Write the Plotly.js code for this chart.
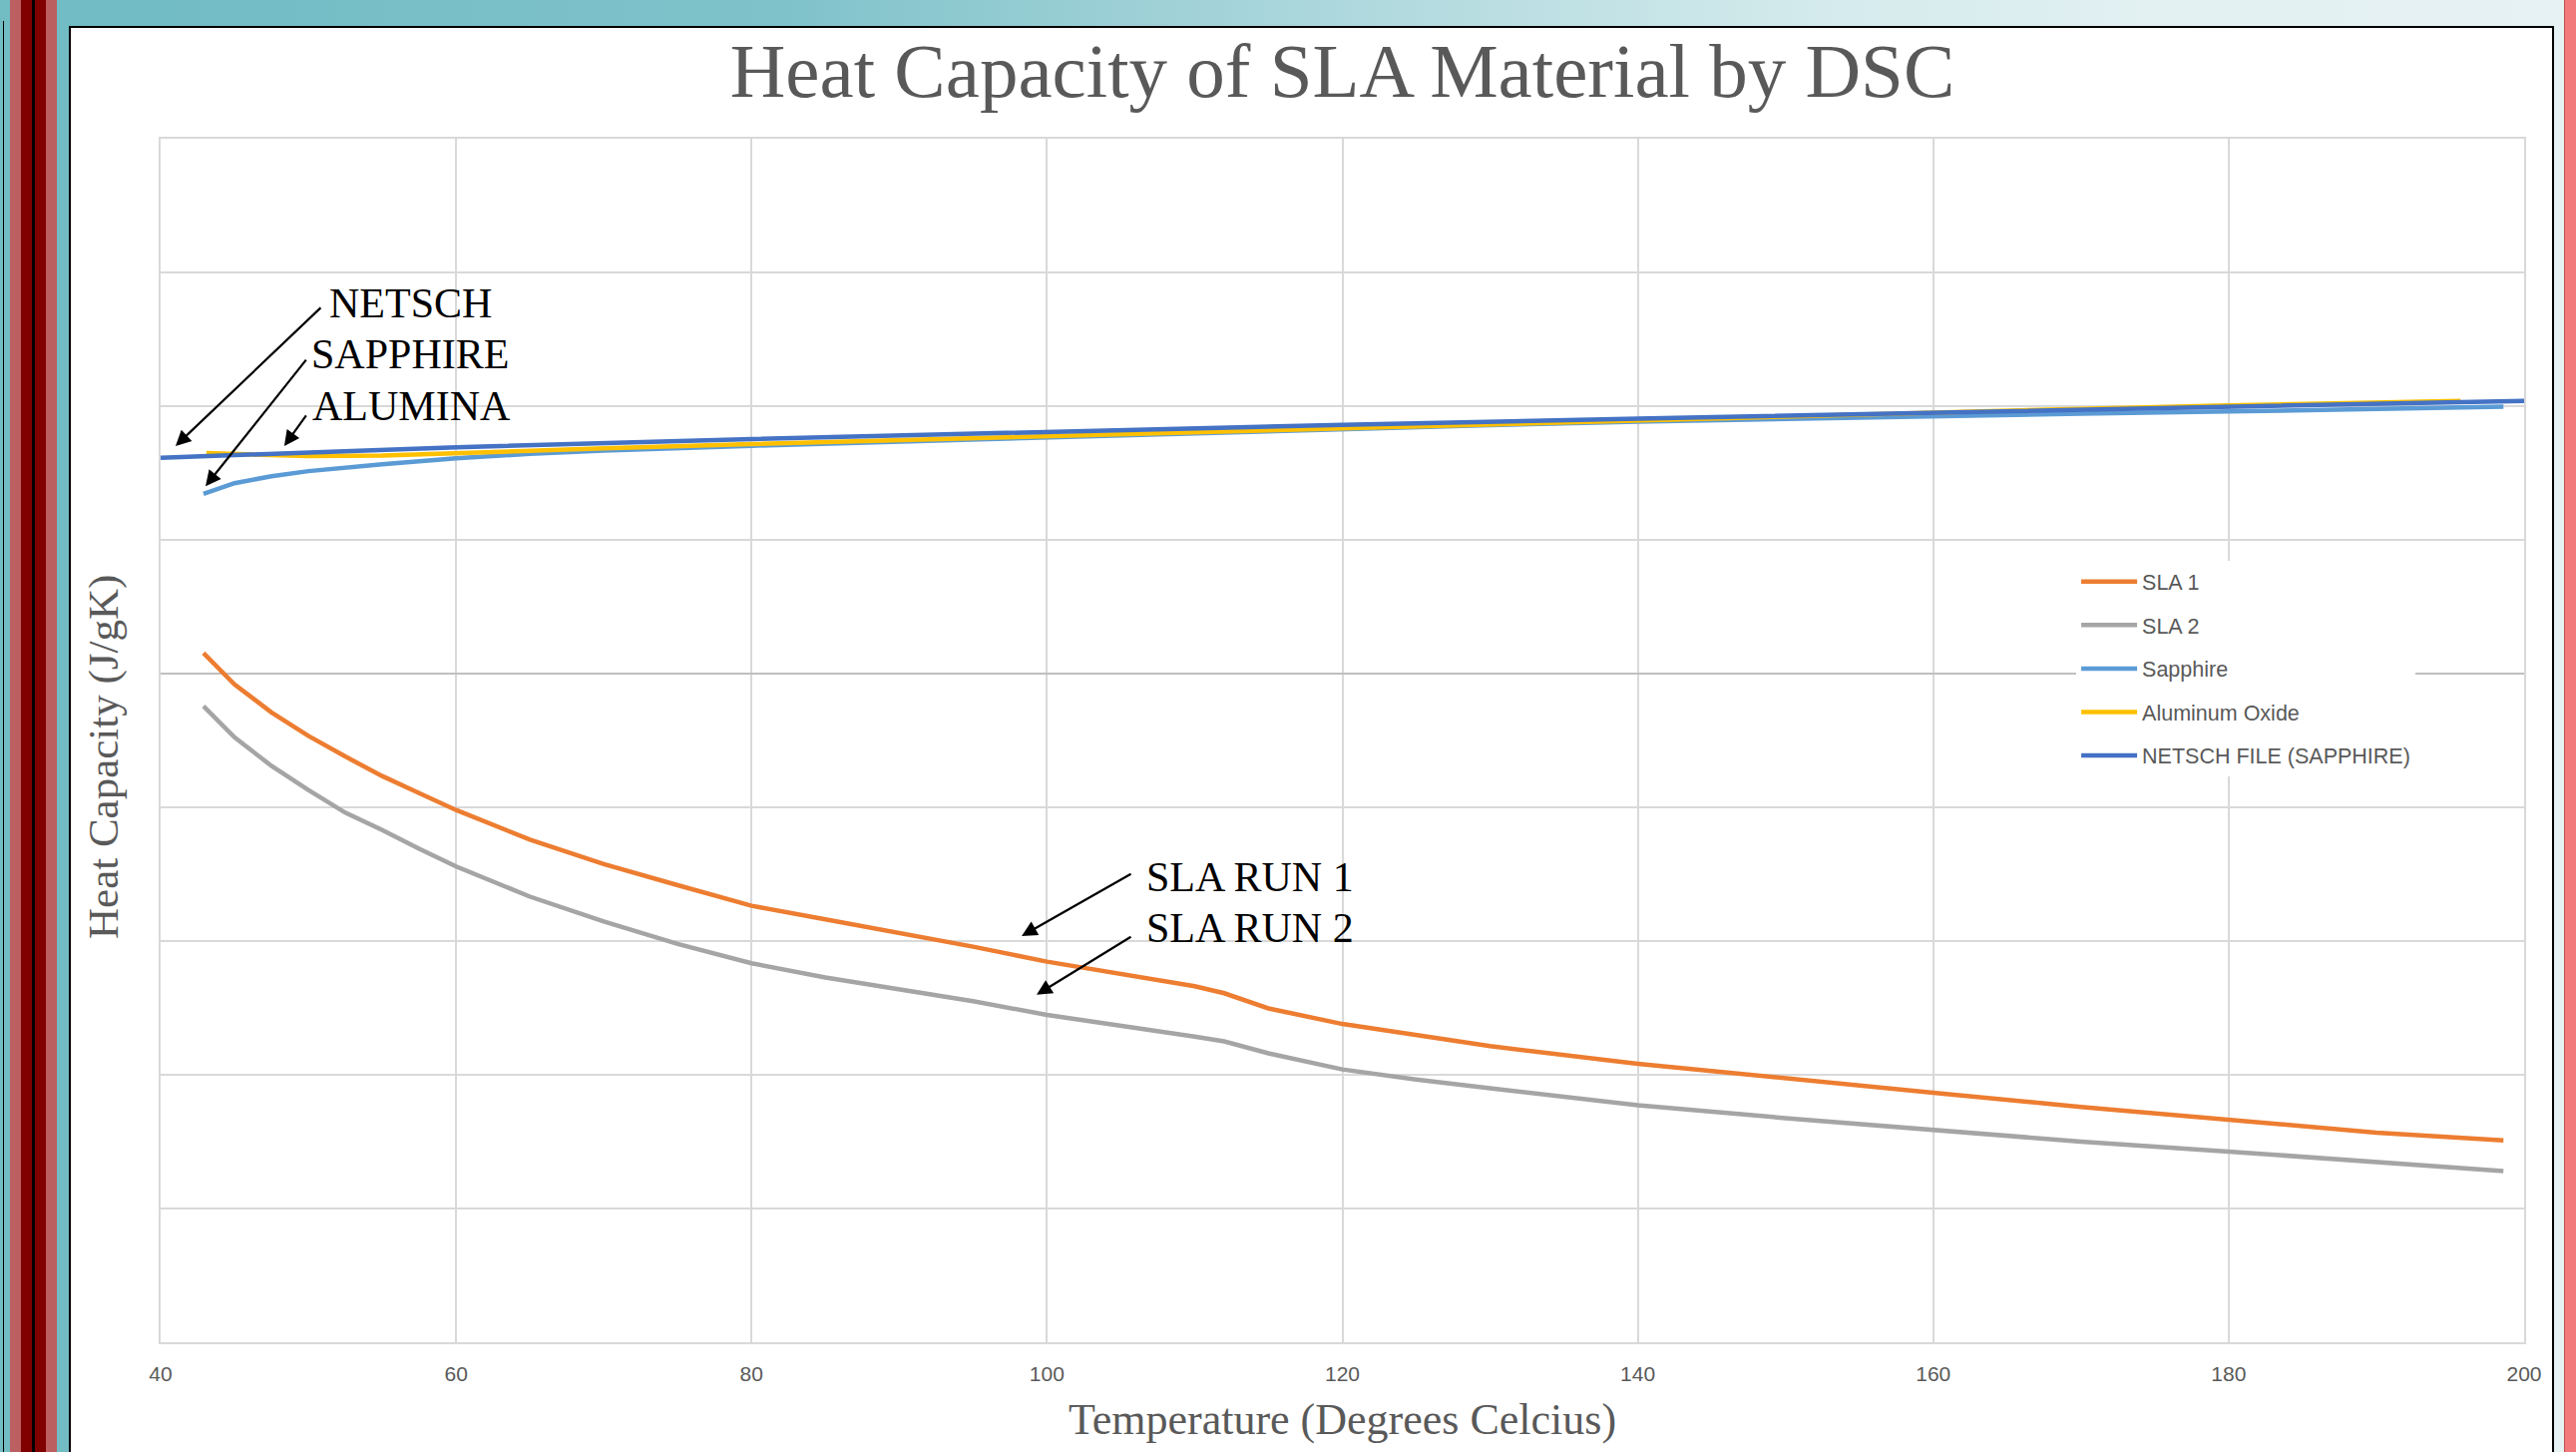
<!DOCTYPE html>
<html>
<head>
<meta charset="utf-8">
<script src="https://cdn.plot.ly/plotly-3.0.1.min.js"></script>
<style>
  html, body { margin:0; padding:0; }
  body { width:2582px; height:1455px; overflow:hidden; position:relative; background:#ffffff; }
  .abs { position:absolute; }
</style>
</head>
<body>
<div class="abs" style="left:0;top:0;width:2582px;height:1455px;background:linear-gradient(to right,#70bbc4 0%,#7fc2ca 30%,#a9d6db 50%,#d3eaec 70%,#e4f1f2 85%,#e6f2f3 100%);"></div>
<div class="abs" style="left:0;top:0;width:10px;height:1455px;background:#72bcc4;"></div>
<div class="abs" style="left:3px;top:21px;width:1px;height:1434px;background:#000;"></div>
<div class="abs" style="left:10px;top:0;width:11px;height:1455px;background:#bc5f61;"></div>
<div class="abs" style="left:21px;top:0;width:11px;height:1455px;background:#800000;"></div>
<div class="abs" style="left:32px;top:0;width:3px;height:1455px;background:#000;"></div>
<div class="abs" style="left:35px;top:0;width:11px;height:1455px;background:#800000;"></div>
<div class="abs" style="left:46px;top:0;width:11px;height:1455px;background:#bc5f61;"></div>
<div class="abs" style="left:57px;top:0;width:12px;height:1455px;background:#72bcc4;"></div>
<div class="abs" style="left:69px;top:26px;width:2491px;height:1429px;box-sizing:border-box;border:2px solid #000;border-bottom:none;background:#fff;"></div>
<div class="abs" style="left:2570px;top:0;width:12px;height:1455px;background:#f37a7a;border-left:1px solid #c05050;box-sizing:border-box;"></div>
<div id="chart" class="abs" style="left:0;top:0;width:2582px;height:1455px;"></div>
<script>
// ---- data ----
const tempSLA = [42.9, 45, 47.5, 50, 52.5, 55, 57.5, 60, 65, 70, 75, 80, 85, 90, 95, 100, 105, 110, 112, 115, 120, 125, 130, 140, 150, 160, 170, 180, 190, 198.6];
const sla1 = [0.077, -0.04, -0.145, -0.233, -0.31, -0.383, -0.447, -0.51, -0.621, -0.712, -0.791, -0.868, -0.919, -0.970, -1.021, -1.077, -1.124, -1.169, -1.195, -1.252, -1.31, -1.351, -1.393, -1.459, -1.515, -1.567, -1.62, -1.67, -1.716, -1.745];
const sla2 = [-0.122, -0.238, -0.345, -0.435, -0.52, -0.585, -0.655, -0.721, -0.834, -0.927, -1.011, -1.083, -1.136, -1.181, -1.225, -1.276, -1.315, -1.357, -1.375, -1.42, -1.48, -1.518, -1.55, -1.614, -1.662, -1.704, -1.75, -1.787, -1.828, -1.86];

const tempSapphire = [42.9, 45, 47.5, 50, 55, 60, 65, 70, 80, 90, 100, 110, 120, 130, 140, 150, 160, 170, 180, 190, 198.6];
const sapphire = [0.672, 0.712, 0.738, 0.757, 0.783, 0.805, 0.822, 0.834, 0.852, 0.868, 0.882, 0.9, 0.915, 0.929, 0.942, 0.953, 0.963, 0.972, 0.98, 0.99, 0.998];

const tempAlumina = [43.1, 50, 55, 60, 70, 80, 90, 100, 110, 120, 130, 140, 150, 160, 170, 180, 190, 195.7];
const alumina = [0.825, 0.813, 0.815, 0.825, 0.842, 0.858, 0.873, 0.887, 0.902, 0.918, 0.933, 0.948, 0.962, 0.976, 0.99, 1.003, 1.015, 1.02];

const tempNetsch = [40, 60, 80, 100, 120, 140, 160, 180, 200];
const netsch = [0.807, 0.846, 0.877, 0.904, 0.93, 0.953, 0.975, 0.996, 1.02];

const seriesNames = ['SLA 1', 'SLA 2', 'Sapphire', 'Aluminum Oxide', 'NETSCH FILE (SAPPHIRE)'];
const seriesColors = ['#ED7D31', '#A5A5A5', '#5B9BD5', '#FFC000', '#4472C4'];
const xTickVals = [40, 60, 80, 100, 120, 140, 160, 180, 200];

// annotation labels
const labelTexts = ['NETSCH', 'SAPPHIRE', 'ALUMINA', 'SLA RUN 1', 'SLA RUN 2'];
const labelX = [51.3, 50.03, 50.13, 106.56, 106.56];
const labelY = [1.384, 1.194, 1.0, -0.761, -0.951];
const arrowHeadX = [41.01, 43.04, 48.37, 98.29, 99.30];
const arrowHeadY = [0.851, 0.701, 0.851, -0.981, -1.201];
const arrowDX = [147, 102, 23, 111, 96];
const arrowDY = [-140, -128, -32, -63, -59];

const xs = [tempSLA, tempSLA, tempSapphire, tempAlumina, tempNetsch];
const ys = [sla1, sla2, sapphire, alumina, netsch];

const traces = seriesNames.map((n, i) => ({
  x: xs[i], y: ys[i], name: n, type: 'scatter', mode: 'lines',
  line: { color: seriesColors[i], width: 4.5 },
  legendgroup: 'g' + i
}));

const serif = 'Liberation Serif, Times New Roman, serif';
const annotations = [];
labelTexts.forEach((t, i) => {
  annotations.push({
    x: labelX[i], y: labelY[i], xref: 'x', yref: 'y', text: t, showarrow: false,
    xanchor: 'left', yanchor: 'middle',
    font: { family: serif, size: 42, color: '#000000' }
  });
  annotations.push({
    x: arrowHeadX[i], y: arrowHeadY[i], xref: 'x', yref: 'y', text: '', showarrow: true,
    ax: arrowDX[i], ay: arrowDY[i], arrowhead: 2, arrowsize: 1.4, arrowwidth: 2.2, arrowcolor: '#000000', standoff: 0
  });
});
// y-axis title placed as rotated text
annotations.push({
  xref: 'paper', yref: 'paper', x: (104 - 161) / 2369, y: (1345 - 759) / 1206,
  xanchor: 'center', yanchor: 'middle', textangle: -90, showarrow: false,
  text: 'Heat Capacity (J/gK)',
  font: { family: serif, size: 43, color: '#595959' }
});

const layout = {
  width: 2582, height: 1455,
  paper_bgcolor: 'rgba(0,0,0,0)', plot_bgcolor: '#ffffff',
  margin: { l: 161, r: 52, t: 139, b: 110 },
  showlegend: true,
  title: {
    text: 'Heat Capacity of SLA Material by DSC',
    font: { family: serif, size: 77, color: '#595959' },
    x: 0.5, xref: 'paper', xanchor: 'center', y: 0.952, yref: 'container', yanchor: 'middle'
  },
  xaxis: {
    range: [40, 200], tickvals: xTickVals, ticktext: xTickVals.map(String),
    showgrid: true, gridcolor: '#D9D9D9', gridwidth: 2,
    showline: true, linecolor: '#D9D9D9', linewidth: 2, mirror: true,
    zeroline: false, ticks: '', ticklabelstandoff: 12,
    tickfont: { family: 'Liberation Sans, Arial, sans-serif', size: 21, color: '#595959' },
    title: { text: 'Temperature (Degrees Celcius)', standoff: 19,
      font: { family: serif, size: 44, color: '#595959' } }
  },
  yaxis: {
    range: [-2.5, 2.0], dtick: 0.5, tick0: 0,
    showgrid: true, gridcolor: '#D9D9D9', gridwidth: 2,
    showline: true, linecolor: '#D9D9D9', linewidth: 2, mirror: true,
    zeroline: true, zerolinecolor: '#BFBFBF', zerolinewidth: 2,
    showticklabels: false, ticks: ''
  },
  legend: {
    x: 0.8105, y: 0.649, xanchor: 'left', yanchor: 'top', xref: 'paper', yref: 'paper',
    bgcolor: '#ffffff', borderwidth: 0, itemwidth: 56,
    traceorder: 'grouped', tracegroupgap: 12.6,
    font: { family: 'Liberation Sans, Arial, sans-serif', size: 21.5, color: '#595959' }
  },
  annotations: annotations
};

Plotly.newPlot('chart', traces, layout, { displayModeBar: false, staticPlot: true });
</script>
</body>
</html>
